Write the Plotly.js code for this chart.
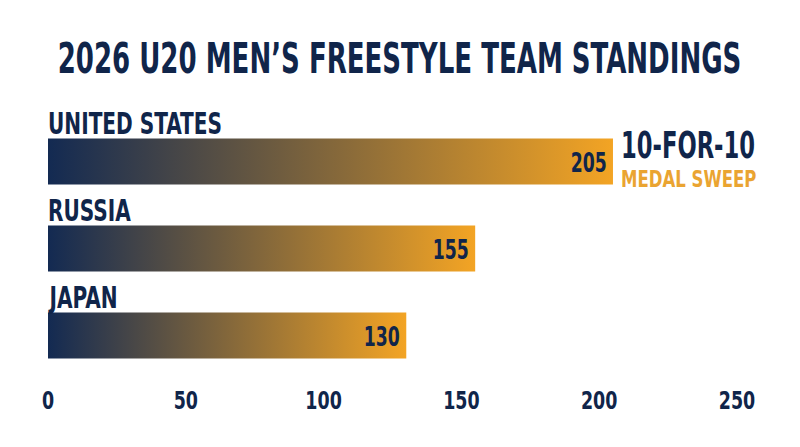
<!DOCTYPE html>
<html>
<head>
<meta charset="utf-8">
<script src="https://cdn.plot.ly/plotly-3.0.1.min.js"></script>
<style>html,body{margin:0;padding:0;background:#fff;}#chart{width:800px;height:447px;}</style>
</head>
<body>
<div id="chart"></div>
<script>
// ---- data ----
const teams = ["UNITED STATES", "RUSSIA", "JAPAN"];
const points = [205, 155, 130];
const tickValues = [0, 50, 100, 150, 200, 250];
const tickLabels = ["0", "50", "100", "150", "200", "250"];
const titleText = "2026 U20 MEN’S FREESTYLE TEAM STANDINGS";
const badgeTop = "10-FOR-10";
const badgeBottom = "MEDAL SWEEP";

// ---- style ----
const NAVY = "#10254a";
const BAR_NAVY = "#132a52";
const ORANGE = "#f3a424";
const BADGE_ORANGE = "#eaa431";
const FONT = "'DejaVu Sans Condensed', 'DejaVu Sans', sans-serif";
const half = 0.264;

const traces = teams.map((t, i) => ({
  type: "scatter",
  mode: "lines",
  x: [0, points[i], points[i], 0, 0],
  y: [i - half, i - half, i + half, i + half, i - half],
  fill: "toself",
  fillgradient: { type: "horizontal", colorscale: [[0, BAR_NAVY], [1, ORANGE]] },
  line: { width: 0, color: "rgba(0,0,0,0)" },
  hoverinfo: "skip",
  showlegend: false
}));

const annotations = [];
teams.forEach((t, i) => {
  annotations.push({
    x: 0, y: i, xref: "x", yref: "y", xanchor: "left", yanchor: "middle",
    yshift: 38, xshift: -2, text: "<b>" + t + "</b>", showarrow: false,
    font: { family: FONT, size: 30, color: NAVY }, name: "team"
  });
});
points.forEach((v, i) => {
  annotations.push({
    x: v, y: i, xref: "x", yref: "y", xanchor: "right", yanchor: "middle",
    xshift: -4, yshift: -1, text: "<b>" + v + "</b>", showarrow: false,
    font: { family: FONT, size: 26.5, color: NAVY }, name: "value"
  });
});
annotations.push({
  x: points[0], y: 0, xref: "x", yref: "y", xanchor: "left", yanchor: "middle",
  xshift: 6, yshift: 17, text: "<b>" + badgeTop + "</b>", showarrow: false,
  font: { family: FONT, size: 37.5, color: NAVY }, name: "badgeTop"
});
annotations.push({
  x: points[0], y: 0, xref: "x", yref: "y", xanchor: "left", yanchor: "middle",
  xshift: 6, yshift: -17, text: "<b>" + badgeBottom + "</b>", showarrow: false,
  font: { family: FONT, size: 23, color: BADGE_ORANGE }, name: "badgeBottom"
});

const layout = {
  width: 800, height: 447,
  paper_bgcolor: "#ffffff", plot_bgcolor: "#ffffff",
  margin: { l: 48, r: 63, t: 100, b: 67 },
  title: {
    text: "<b>" + titleText + "</b>",
    x: 399.5 / 800, xanchor: "center", xref: "container",
    y: 1 - 58.4 / 447, yref: "container", yanchor: "middle",
    font: { family: FONT, size: 43, color: NAVY }
  },
  xaxis: {
    range: [0, 250], showgrid: false, zeroline: false, showline: false,
    tickmode: "array", tickvals: tickValues, ticktext: tickLabels,
    ticks: "", ticklabelstandoff: 4,
    tickfont: { family: FONT, size: 24, color: NAVY, weight: "bold" }
  },
  yaxis: {
    range: [2 + 44.5 / 87, -61.5 / 87], showgrid: false, zeroline: false,
    showline: false, showticklabels: false, ticks: ""
  },
  annotations: annotations,
  showlegend: false
};

// horizontal condensing of text so the wide fallback font matches the narrow original
function squeeze(el, sx, anchor) {
  const b = el.getBBox();
  const px = anchor === "left" ? b.x : anchor === "right" ? b.x + b.width : b.x + b.width / 2;
  const ex = el.getAttribute("transform") || "";
  el.setAttribute("transform", ex + " translate(" + px + ",0) scale(" + sx + ",1) translate(" + (-px) + ",0)");
}
function factor(el, target) { return target / el.getBBox().width; }

Plotly.newPlot("chart", traces, layout, { staticPlot: true, displayModeBar: false }).then(() => {
  const title = document.querySelector("#chart .gtitle");
  squeeze(title, factor(title, 684), "center");

  const ticks = Array.from(document.querySelectorAll("#chart .xtick text"));
  const tf = factor(ticks[4], 36.5);
  ticks.forEach(t => squeeze(t, tf, "center"));

  const ann = Array.from(document.querySelectorAll("#chart g.annotation text"));
  const teamEls = ann.slice(0, 3), valEls = ann.slice(3, 6);
  const kf = factor(teamEls[0], 174);
  teamEls.forEach(t => squeeze(t, kf, "left"));
  const vf = factor(valEls[0], 36);
  valEls.forEach(t => squeeze(t, vf, "right"));
  squeeze(ann[6], factor(ann[6], 134), "left");
  squeeze(ann[7], factor(ann[7], 135.5), "left");
});
</script>
</body>
</html>
